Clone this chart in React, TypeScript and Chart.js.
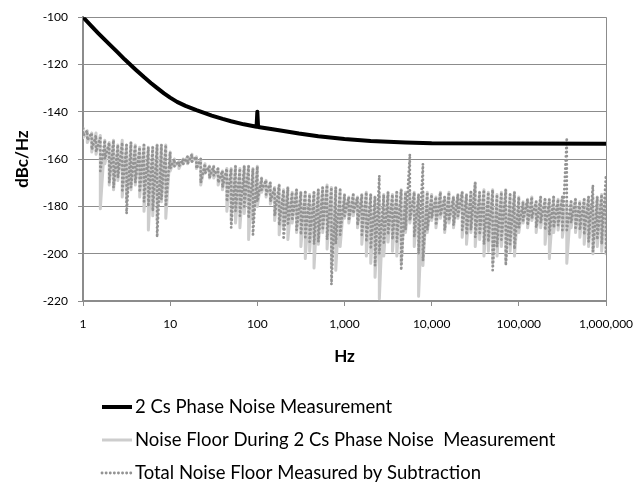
import React, { useEffect, useRef } from "react";
import { Chart, registerables } from "chart.js";

Chart.register(...registerables);

// ---- data ----
const DECADES = [1, 10, 100, 1000, 10000, 100000];
const MANTISSAS = [1, 1.12, 1.26, 1.41, 1.58, 1.78, 2, 2.24, 2.51, 2.82, 3.16, 3.55, 3.98, 4.47, 5.01, 5.62, 6.31, 7.08, 7.94, 8.91];
const LAST_FREQ = 1000000;
const X_TICKS = [1, 10, 100, 1000, 10000, 100000, 1000000];

const PN_FREQ = [1, 1.25, 1.5, 1.75, 2, 2.5, 3, 4, 5, 6, 7, 8.5, 10, 12, 15, 20, 25, 30, 40, 50, 70, 98, 100, 102, 150, 200, 300, 500, 1000, 2000, 5000, 10000, 100000, 1000000];
const PN_DBC = [-100, -103.8, -106.8, -109.3, -111.4, -114.9, -117.8, -122.1, -125.3, -127.8, -129.8, -132.2, -134, -135.8, -137.5, -139.3, -140.6, -141.6, -143, -144, -145.3, -146.3, -140, -146.4, -147.4, -148.1, -149.2, -150.3, -151.5, -152.3, -153, -153.3, -153.4, -153.5];

// light grey series (upper / lower excursions at each frequency)
const NF_HI = [
  -147, -148, -149, -149, -150, -152, -153, -152, -154, -152, -154, -153, -154, -155, -154, -155, -155, -154, -154, -154,
  -157, -160, -161, -160, -159, -158, -159, -160, -162, -163, -163, -164, -165, -164, -164, -163, -164, -163, -163, -164,
  -163, -168, -169, -170, -172, -171, -173, -172, -174, -173, -174, -174, -175, -174, -173, -172, -171, -172, -172, -173,
  -175, -176, -175, -176, -175, -174, -175, -176, -175, -175, -174, -175, -174, -173, -174, -174, -174, -175, -174, -174,
  -175, -176, -174, -176, -174, -176, -175, -174, -175, -174, -170, -174, -173, -174, -173, -175, -174, -173, -175, -174,
  -176, -178, -177, -176, -178, -176, -177, -177, -176, -177, -176, -178, -178, -177, -178, -177, -176, -176, -176, -175,
  -176,
];
const NF_LO = [
  -151, -153, -157, -158, -181, -162, -171, -173, -169, -176, -178, -173, -171, -176, -182, -190, -184, -186, -178, -185,
  -165, -163, -164, -162, -162, -161, -164, -171, -166, -168, -168, -171, -173, -182, -186, -187, -189, -183, -194, -186,
  -180, -174, -176, -179, -186, -192, -189, -194, -187, -191, -197, -202, -199, -206, -196, -191, -198, -206, -207, -197,
  -185, -187, -184, -189, -196, -201, -204, -210, -219, -201, -195, -199, -201, -204, -191, -187, -197, -218, -205, -191,
  -186, -189, -185, -191, -187, -189, -185, -193, -196, -191, -197, -194, -201, -199, -204, -201, -197, -203, -199, -201,
  -191, -187, -189, -186, -191, -189, -196, -202, -191, -190, -193, -204, -189, -191, -193, -196, -197, -200, -197, -199,
  -200,
];
// dotted series
const TN_HI = [
  -147, -148, -149, -150, -151, -152, -153, -152, -154, -153, -154, -153, -154, -155, -154, -155, -155, -154, -154, -154,
  -157, -160, -161, -160, -159, -158, -159, -160, -162, -163, -163, -164, -165, -164, -164, -163, -164, -163, -163, -164,
  -163, -168, -169, -170, -172, -171, -173, -172, -174, -173, -174, -174, -175, -174, -173, -172, -171, -172, -172, -173,
  -175, -176, -175, -176, -175, -174, -175, -176, -167, -175, -174, -175, -174, -173, -174, -158, -174, -175, -162, -174,
  -175, -176, -174, -176, -174, -176, -175, -174, -175, -174, -170, -174, -173, -174, -173, -175, -174, -173, -175, -174,
  -176, -178, -177, -176, -178, -176, -177, -177, -176, -177, -176, -151, -178, -177, -178, -177, -176, -171, -176, -175,
  -167,
];
const TN_LO = [
  -150, -152, -156, -157, -165, -160, -170, -172, -168, -174, -183, -172, -170, -174, -178, -180, -182, -193, -177, -180,
  -164, -163, -163, -162, -162, -161, -164, -170, -166, -168, -167, -170, -172, -178, -189, -182, -184, -180, -185, -192,
  -178, -173, -175, -178, -184, -188, -194, -188, -186, -190, -192, -193, -195, -196, -195, -190, -194, -213, -196, -192,
  -184, -186, -183, -188, -192, -195, -198, -205, -200, -196, -192, -194, -195, -207, -190, -186, -193, -200, -203, -190,
  -185, -188, -184, -190, -186, -188, -184, -190, -192, -190, -193, -192, -196, -195, -207, -197, -194, -205, -196, -198,
  -189, -186, -188, -185, -189, -187, -190, -192, -189, -188, -190, -190, -187, -189, -190, -192, -195, -199, -194, -196,
  -200,
];

const SERIES_LABELS = [
  "2 Cs Phase Noise Measurement",
  "Noise Floor During 2 Cs Phase Noise  Measurement",
  "Total Noise Floor Measured by Subtraction",
];

const FREQS: number[] = DECADES.flatMap((d) => MANTISSAS.map((m) => +(d * m).toPrecision(4))).concat([LAST_FREQ]);

function band(hi: number[], lo: number[]) {
  return FREQS.flatMap((f, i) => [
    { x: f, y: hi[i] },
    { x: f, y: lo[i] },
  ]);
}

const FONT = "Lato";
const GRID = "#8c8c8c";

const legendPlugin = {
  id: "customLegend",
  afterDraw(chart: any) {
    const ctx = chart.ctx;
    ctx.save();
    chart.data.datasets.forEach((ds: any, i: number) => {
      const y = 407 + i * 33;
      ctx.beginPath();
      ctx.strokeStyle = ds.borderColor;
      ctx.lineWidth = i === 0 ? 4 : ds.borderWidth;
      ctx.setLineDash(ds.borderDash || []);
      ctx.lineCap = ds.borderCapStyle || "butt";
      ctx.moveTo(102, y);
      ctx.lineTo(132, y);
      ctx.stroke();
      ctx.setLineDash([]);
      ctx.fillStyle = "#000";
      ctx.font = `18.5px ${FONT}`;
      ctx.textBaseline = "middle";
      ctx.textAlign = "left";
      ctx.fillText(ds.label, 135, y);
    });
    ctx.restore();
  },
};

export default function App() {
  const ref = useRef<HTMLCanvasElement>(null);
  useEffect(() => {
    document.body.style.margin = "0";
    const chart = new Chart(ref.current!, {
      type: "line",
      data: {
        datasets: [
          {
            label: SERIES_LABELS[0],
            data: PN_FREQ.map((f, i) => ({ x: f, y: PN_DBC[i] })),
            borderColor: "#000",
            borderWidth: 4,
            borderJoinStyle: "round",
            pointRadius: 0,
            order: 0,
          },
          {
            label: SERIES_LABELS[1],
            data: band(NF_HI, NF_LO),
            borderColor: "#cdcdcd",
            borderWidth: 3,
            borderJoinStyle: "round",
            pointRadius: 0,
            order: 2,
          },
          {
            label: SERIES_LABELS[2],
            data: band(TN_HI, TN_LO),
            borderColor: "#939393",
            borderWidth: 2.8,
            borderDash: [0.1, 4],
            borderCapStyle: "round",
            borderJoinStyle: "round",
            pointRadius: 0,
            order: 1,
          },
        ],
      },
      options: {
        animation: false,
        responsive: false,
        devicePixelRatio: 1,
        layout: { padding: { top: 11, right: 28, bottom: 110, left: 0 } },
        plugins: { legend: { display: false }, tooltip: { enabled: false } },
        scales: {
          x: {
            type: "logarithmic",
            min: 1,
            max: 1000000,
            afterBuildTicks: (s: any) => {
              s.ticks = X_TICKS.map((v) => ({ value: v }));
            },
            afterFit: (s: any) => {
              s.height = 73;
              s.paddingLeft = 0;
              s.paddingRight = 0;
            },
            ticks: {
              autoSkip: false,
              maxRotation: 0,
              padding: 11,
              color: "#000",
              font: { family: FONT, size: 12 },
              callback: (v: any) => Number(v).toLocaleString("en-US"),
            },
            grid: {
              color: (c: any) => (c.tick && c.tick.value === 1000000 ? GRID : "rgba(0,0,0,0)"),
              tickColor: GRID,
              tickLength: 5,
            },
            border: { color: GRID, width: 2 },
            title: {
              display: true,
              text: "Hz",
              color: "#000",
              font: { family: FONT, size: 17, weight: "bold" },
              padding: { top: 0, bottom: 7 },
            },
          },
          y: {
            min: -220,
            max: -100,
            afterFit: (s: any) => {
              s.width = 83;
            },
            ticks: {
              stepSize: 20,
              padding: 10,
              color: "#000",
              font: { family: FONT, size: 12 },
            },
            grid: { color: GRID, tickColor: GRID, tickLength: 5 },
            border: { color: GRID, width: 2 },
            title: {
              display: true,
              text: "dBc/Hz",
              color: "#000",
              font: { family: FONT, size: 17, weight: "bold" },
              padding: { top: 12, bottom: 0 },
            },
          },
        },
      } as any,
      plugins: [legendPlugin],
    });
    return () => chart.destroy();
  }, []);
  return (
    <div style={{ width: 634, height: 484 }}>
      <canvas ref={ref} width={634} height={484} />
    </div>
  );
}
